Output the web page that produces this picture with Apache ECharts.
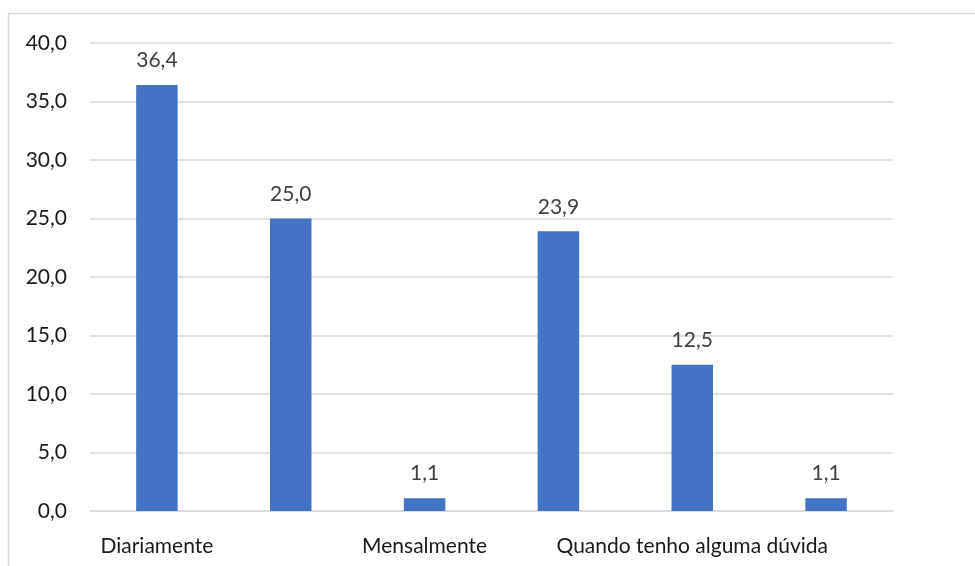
<!DOCTYPE html>
<html>
<head>
<meta charset="utf-8">
<script src="https://cdn.jsdelivr.net/npm/echarts@6/dist/echarts.min.js"></script>
<style>
  html, body { margin: 0; padding: 0; background: #ffffff; }
  #chart { width: 975px; height: 566px; }
</style>
</head>
<body>
<div id="chart"></div>
<script>
// Frequency of access (percent of respondents)
const categories = ['Diariamente', 'Semanalmente', 'Mensalmente', 'Raramente', 'Quando tenho alguma dúvida', 'Nunca'];
const values = [36.4, 25.0, 1.1, 23.9, 12.5, 1.1];
const yTicks = { min: 0, max: 40, interval: 5 };

const fmt = v => Number(v).toFixed(1).replace('.', ',');
const font = 'Lato, "Open Sans", "Noto Sans", sans-serif';

const chart = echarts.init(document.getElementById('chart'), null, { renderer: 'canvas' });
chart.setOption({
  backgroundColor: '#ffffff',
  animation: false,
  graphic: [{
    type: 'rect',
    shape: { x: 8.5, y: 13.5, width: 1000, height: 600 },
    style: { fill: 'none', stroke: '#d9d9d9', lineWidth: 1.5 },
    silent: true
  }],
  grid: { left: 90, right: 82, top: 43, bottom: 55 },
  xAxis: {
    type: 'category',
    data: categories,
    axisLine: { show: true, lineStyle: { color: '#d9d9d9', width: 1.5 } },
    axisTick: { show: false },
    axisLabel: {
      interval: 1,
      margin: 25,
      color: '#1a1a1a',
      fontSize: 21,
      fontFamily: font
    }
  },
  yAxis: {
    type: 'value',
    min: yTicks.min,
    max: yTicks.max,
    interval: yTicks.interval,
    axisLine: { show: false },
    axisTick: { show: false },
    splitLine: { lineStyle: { color: '#d9d9d9', width: 1.5 } },
    axisLabel: {
      formatter: fmt,
      margin: 23,
      color: '#1a1a1a',
      fontSize: 21,
      fontFamily: font
    }
  },
  series: [{
    type: 'bar',
    data: values,
    barWidth: '31%',
    itemStyle: { color: '#4472c4' },
    label: {
      show: true,
      position: 'top',
      distance: 14,
      formatter: p => fmt(p.value),
      color: '#404040',
      fontSize: 21,
      fontFamily: font
    }
  }]
});
</script>
</body>
</html>
